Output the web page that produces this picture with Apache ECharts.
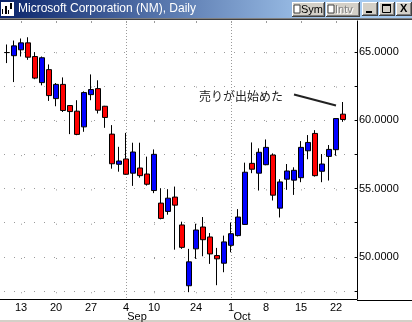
<!DOCTYPE html>
<html><head><meta charset="utf-8">
<script src="https://cdn.jsdelivr.net/npm/echarts@6/dist/echarts.min.js"></script>
<style>html,body{margin:0;padding:0;background:#fff;}#c{width:412px;height:322px;}</style>
</head><body><div id="c"></div>
<script>
// ---- data ----
const dates = ['8/9','8/10','8/13','8/14','8/15','8/16','8/17','8/20','8/21','8/22','8/23','8/24',
  '8/27','8/28','8/29','8/30','8/31','9/4','9/5','9/6','9/7','9/10','9/17','9/18','9/19','9/20','9/21',
  '9/24','9/25','9/26','9/27','9/28','10/1','10/2','10/3','10/4','10/5','10/8','10/9','10/10','10/11','10/12',
  '10/15','10/16','10/17','10/18','10/19','10/22','10/23'];
const opens  = [64.95,64.72,65.15,65.66,64.66,62.75,63.70,61.58,62.62,61.07,60.66,59.51,61.87,62.31,61.02,58.98,56.77,57.16,56.12,56.50,56.06,54.85,53.93,53.32,54.37,52.33,47.88,50.58,52.18,51.45,50.09,49.53,50.84,51.55,52.37,56.84,56.12,56.74,57.45,53.56,55.68,55.61,55.79,57.76,59.03,56.26,57.35,57.84,60.44];
const closes = [64.95,65.44,65.66,64.61,63.08,64.57,61.80,62.62,60.71,60.63,58.96,62.02,62.24,60.73,60.20,56.81,57.01,56.04,57.67,55.94,55.31,57.50,52.81,54.29,53.78,50.69,49.63,51.96,51.25,50.21,49.85,51.09,51.69,52.91,56.19,56.41,57.65,58.01,54.51,55.48,56.28,56.33,58.01,58.37,55.94,56.79,57.86,60.12,60.05];
const lows   = [64.18,62.79,64.66,64.42,63.00,62.55,61.41,61.02,60.60,58.98,58.90,59.15,61.46,60.49,59.44,56.45,56.23,56.00,55.19,55.79,55.21,54.66,52.74,53.08,50.52,50.58,47.41,49.85,50.04,49.48,47.92,48.87,50.33,51.49,52.33,56.12,54.85,56.70,54.12,52.88,54.90,54.53,55.46,57.14,55.87,55.46,55.58,57.40,59.88];
const highs  = [65.54,65.83,65.98,66.07,64.98,64.66,64.08,62.72,63.13,61.10,61.46,62.11,63.35,62.92,61.05,59.64,58.05,59.07,58.35,58.35,57.33,57.86,55.02,54.95,55.14,52.57,50.58,52.42,52.91,51.74,50.65,51.55,52.51,53.49,56.89,58.37,57.94,58.59,57.57,55.68,56.79,56.55,58.47,58.91,59.27,57.52,58.18,60.15,61.33];
const tickDates = ['8/13','8/20','8/27','9/4','9/10','9/24','10/1','10/8','10/15','10/22'];
const tickText  = ['13','20','27','4','10','24','1','8','15','22'];
const monthStarts = ['9/4','10/1'];
const monthNames  = ['Sep','Oct'];
const yLabelValues = [50,55,60,65];
const yTickValues  = [47.5,50,52.5,55,57.5,60,62.5,65];
const noteText = '売りが出始めた';
const noteAt = ['10/11', 61.76];
const noteLine = [['10/12', 61.88], ['10/22', 61.07]];

// ---- build ----
const cats = [''].concat(dates, ['', ' ']);
const blank = ['-','-','-','-'];
const ohlc = [blank].concat(dates.map((d,i)=>[opens[i],closes[i],lows[i],highs[i]]), [blank, blank]);
const isTick = v => tickDates.indexOf(v) >= 0;
const isMonth = v => monthStarts.indexOf(v) >= 0;
const FONT = '"Liberation Sans", Arial, sans-serif';

function bevel(x,y,w,h,z){ return [
  {type:'rect', z2:z, shape:{x:x,y:y,width:w,height:h}, style:{fill:'#404040'}},
  {type:'rect', z2:z+1, shape:{x:x,y:y,width:w-1,height:h-1}, style:{fill:'#ffffff'}},
  {type:'rect', z2:z+2, shape:{x:x+1,y:y+1,width:w-2,height:h-2}, style:{fill:'#808080'}},
  {type:'rect', z2:z+3, shape:{x:x+1,y:y+1,width:w-3,height:h-3}, style:{fill:'#D4D0C8'}}
];}

const g = [
  {type:'rect', z2:1, shape:{x:0,y:0,width:412,height:18},
   style:{fill:{type:'linear',x:0,y:0,x2:1,y2:0,colorStops:[{offset:0,color:'#0A246A'},{offset:0.8,color:'#A6CAF0'},{offset:1,color:'#A6CAF0'}]}}},
  {type:'rect', z2:2, shape:{x:0,y:18,width:412,height:1}, style:{fill:'#808080'}},
  {type:'rect', z2:2, shape:{x:0,y:19,width:412,height:1}, style:{fill:'#404040'}},
  // icon
  {type:'rect', z2:3, shape:{x:1,y:2,width:13,height:14}, style:{fill:'#ffffff'}},
  {type:'rect', z2:4, shape:{x:2,y:9,width:1,height:5}, style:{fill:'#000'}},
  {type:'rect', z2:4, shape:{x:5,y:6,width:2,height:8}, style:{fill:'#000'}},
  {type:'rect', z2:4, shape:{x:8,y:10,width:1,height:4}, style:{fill:'#000'}},
  {type:'rect', z2:4, shape:{x:10,y:3,width:2,height:6}, style:{fill:'#000'}},
  {type:'text', z2:5, x:18, y:3, style:{text:'Microsoft Corporation (NM), Daily', fill:'#ffffff', font:'12px ' + FONT}},
  // bottom strip
  {type:'rect', z2:2, shape:{x:0,y:320,width:412,height:2}, style:{fill:'#D4D0C8'}},
  {type:'rect', z2:2, shape:{x:357,y:300,width:55,height:1}, style:{fill:'#000'}}
];
[].push.apply(g, bevel(292,2,33,15,10));
[].push.apply(g, bevel(326,2,34,15,10));
[].push.apply(g, bevel(362,2,16,14,10));
[].push.apply(g, bevel(379,2,16,14,10));
[].push.apply(g, bevel(396,2,16,14,10));
g.push(
  {type:'rect', z2:20, shape:{x:294,y:5,width:6,height:8}, style:{fill:'#fff', stroke:'#404040', lineWidth:1}},
  {type:'text', z2:20, x:301, y:4, style:{text:'Sym', fill:'#000', font:'11px ' + FONT}},
  {type:'rect', z2:20, shape:{x:328,y:5,width:6,height:8}, style:{fill:'#fff', stroke:'#404040', lineWidth:1}},
  {type:'text', z2:20, x:336, y:5, style:{text:'Intv', fill:'#fff', font:'11px ' + FONT}},
  {type:'text', z2:21, x:335, y:4, style:{text:'Intv', fill:'#808080', font:'11px ' + FONT}},
  {type:'rect', z2:20, shape:{x:366,y:11,width:6,height:2}, style:{fill:'#000'}},
  {type:'rect', z2:20, shape:{x:382.5,y:4.5,width:8,height:8}, style:{fill:'none', stroke:'#000', lineWidth:1}},
  {type:'rect', z2:20, shape:{x:382,y:4,width:9,height:2}, style:{fill:'#000'}},
  {type:'text', z2:20, x:400, y:3, style:{text:'X', fill:'#000', font:'bold 11px ' + FONT}}
);

const chart = echarts.init(document.getElementById('c'), null, {renderer:'canvas'});
chart.setOption({
  animation:false,
  backgroundColor:'#ffffff',
  graphic: g,
  grid:{left:0, right:55, top:21, bottom:22, containLabel:false},
  xAxis:[{
    type:'category', data:cats, boundaryGap:false,
    axisLine:{show:true, lineStyle:{color:'#000', width:1}},
    axisTick:{show:false},
    axisLabel:{
      interval:(i,v)=>isTick(v), margin:4, color:'#000', fontFamily:'"Liberation Sans", Arial, sans-serif', fontSize:11,
      formatter:(v)=>{
        const k = tickDates.indexOf(v); if (k < 0) return '';
        const m = monthStarts.indexOf(v);
        return m >= 0 ? '{d|' + tickText[k] + '}\n{m|' + monthNames[m] + '}' : '{d|' + tickText[k] + '}';
      },
      rich:{ d:{fontSize:11, lineHeight:9, color:'#000'}, m:{fontSize:11, lineHeight:9, color:'#000', padding:[0,0,0,22]} }
    },
    splitLine:{show:true, interval:(i,v)=>isMonth(v), lineStyle:{color:'#9a9a9a', width:1, type:[1,2]}}
  },{
    type:'category', data:cats, boundaryGap:false, position:'top',
    axisLine:{show:false}, axisLabel:{show:false},
    axisTick:{show:true, inside:true, length:2, interval:(i,v)=>isTick(v), lineStyle:{color:'#9a9a9a'}},
    splitLine:{show:true, interval:(i,v)=>isTick(v) && !isMonth(v), lineStyle:{color:'#9a9a9a', width:1, type:[1,33.28], dashOffset:2.98}}
  }],
  yAxis:{
    type:'value', position:'right', min:46.91, max:67.26, scale:true,
    axisLine:{show:true, lineStyle:{color:'#000', width:1}},
    axisTick:{show:true, inside:true, length:2, customValues:yTickValues, lineStyle:{color:'#000'}},
    axisLabel:{customValues:yLabelValues, margin:2, color:'#000', fontFamily:'"Liberation Sans", Arial, sans-serif', fontSize:11, formatter:(v)=>Number(v).toFixed(4)},
    splitLine:{show:true, lineStyle:{color:'#9a9a9a', width:1, type:[1,9], dashOffset:6}}
  },
  series:[{
    type:'candlestick', xAxisIndex:0, data:ohlc, barWidth:5,
    itemStyle:{color:'#0000FF', color0:'#FF0000', borderColor:'#000', borderColor0:'#000', borderColorDoji:'#000', borderWidth:1},
    markPoint:{
      silent:true, symbol:'circle', symbolSize:0,
      data:[{coord:noteAt, value:noteText}],
      label:{show:true, position:'left', distance:4, formatter:noteText, color:'#222', fontSize:12, fontFamily:'"Noto Sans CJK JP", sans-serif'}
    },
    markLine:{
      silent:true, symbol:['none','none'], label:{show:false},
      lineStyle:{color:'#222', width:2, type:'solid'},
      data:[[{coord:noteLine[0]},{coord:noteLine[1]}]]
    }
  }]
});
</script></body></html>
